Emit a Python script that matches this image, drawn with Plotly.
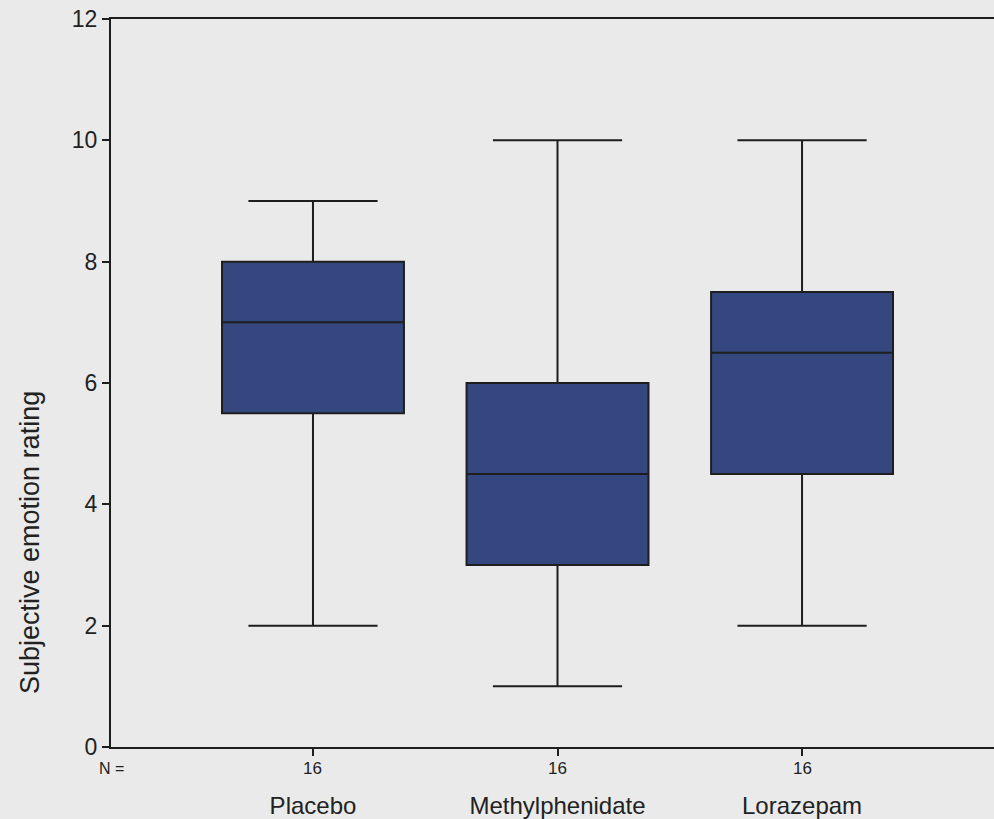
import plotly.graph_objects as go

categories = ["Placebo", "Methylphenidate", "Lorazepam"]
lower_whisker = [2, 1, 2]
q1_vals = [5.5, 3, 4.5]
median_vals = [7, 4.5, 6.5]
q3_vals = [8, 6, 7.5]
upper_whisker = [9, 10, 10]
n_vals = [16, 16, 16]
y_ticks = [0, 2, 4, 6, 8, 10, 12]

BG = "#EAEAEA"
FILL = "#34487F"
LINE = "#1E1E1E"
FONT = "Liberation Sans, Arial, sans-serif"

fig = go.Figure()
fig.add_trace(go.Box(
    x=categories,
    q1=q1_vals,
    median=median_vals,
    q3=q3_vals,
    lowerfence=lower_whisker,
    upperfence=upper_whisker,
    fillcolor=FILL,
    line=dict(color=LINE, width=2),
    width=0.744,
    whiskerwidth=0.71,
    boxpoints=False,
    hoverinfo="skip",
    showlegend=False,
))

annotations = [dict(
    x=0, y=0, xref="paper", yref="paper", xanchor="center", yanchor="middle",
    yshift=-21, text="N =", showarrow=False,
    font=dict(family=FONT, size=16, color="#222"),
)]
for c, n in zip(categories, n_vals):
    annotations.append(dict(
        x=c, y=0, xref="x", yref="paper", xanchor="center", yanchor="middle",
        yshift=-21, text=str(n), showarrow=False,
        font=dict(family=FONT, size=17, color="#222"),
    ))
# y-axis title (placed lower than the plot middle, as in the reference)
annotations.append(dict(
    x=0, y=(747 - 543) / 728, xref="paper", yref="paper",
    xanchor="center", yanchor="middle", xshift=-81,
    text="Subjective emotion rating", textangle=-90, showarrow=False,
    font=dict(family=FONT, size=27, color="#222"),
))

fig.update_layout(
    width=994, height=819,
    margin=dict(l=111, r=0, t=19, b=72),
    paper_bgcolor=BG, plot_bgcolor=BG,
    font=dict(family=FONT, color="#222"),
    annotations=annotations,
    xaxis=dict(
        type="category",
        categoryorder="array", categoryarray=categories,
        range=[-0.826, 2.785],
        showline=True, linecolor=LINE, linewidth=2, mirror=True,
        ticks="outside", ticklen=7, tickwidth=2, tickcolor=LINE,
        showgrid=False, zeroline=False,
        tickfont=dict(family=FONT, size=24, color="#222"),
        ticklabelstandoff=29,
        automargin=False,
    ),
    yaxis=dict(
        range=[0, 12],
        tickvals=y_ticks,
        showline=True, linecolor=LINE, linewidth=2,
        ticks="outside", ticklen=7, tickwidth=2, tickcolor=LINE,
        showgrid=False, zeroline=False,
        tickfont=dict(family=FONT, size=23, color="#222"),
        automargin=False,
    ),
)

fig.write_html("out.html")
